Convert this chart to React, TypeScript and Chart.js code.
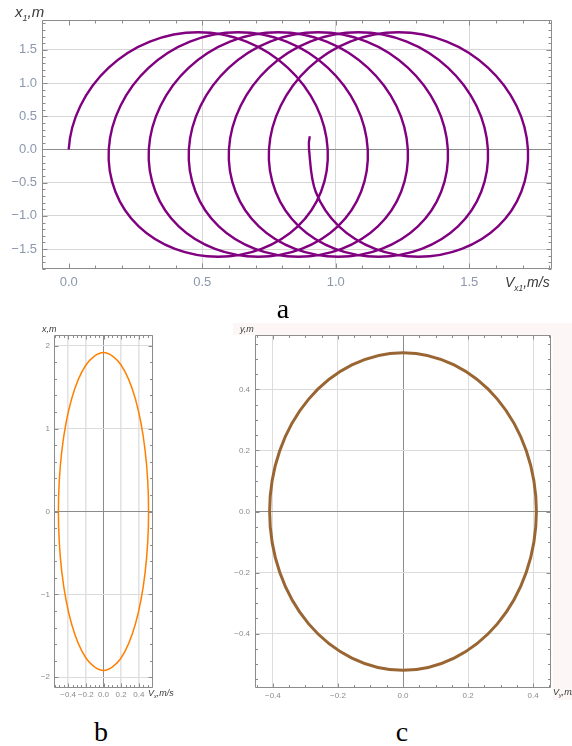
import React, { useEffect, useRef } from "react";
import { Chart, registerables } from "chart.js";

Chart.register(...registerables);
Chart.defaults.font.family = '"Liberation Sans", Arial, sans-serif';

// ---- (a) phase trajectory V_x1 – x1, sampled every 1/16 of a turn ----
// The first and last samples only steer the spline ends; their segments are not stroked.
const spiralV = [
  0.025,
  0, 0.044, 0.15, 0.304, 0.485, 0.666, 0.82, 0.927, 0.97, 0.945, 0.858, 0.722, 0.56, 0.398, 0.262, 0.175,
  0.15, 0.194, 0.3, 0.454, 0.635, 0.816, 0.97, 1.077, 1.12, 1.095, 1.008, 0.872, 0.71, 0.548, 0.412, 0.325,
  0.3, 0.344, 0.45, 0.604, 0.785, 0.966, 1.12, 1.227, 1.27, 1.245, 1.158, 1.022, 0.86, 0.698, 0.562, 0.475,
  0.45, 0.494, 0.6, 0.754, 0.935, 1.116, 1.27, 1.377, 1.42, 1.395, 1.308, 1.172, 1.01, 0.848, 0.712, 0.625,
  0.6, 0.644, 0.75, 0.904, 1.085, 1.266, 1.42, 1.527, 1.57, 1.545, 1.458, 1.322, 1.16, 0.998, 0.862, 0.775,
  0.75, 0.794, 0.9, 1.054, 1.235, 1.416, 1.57, 1.677, 1.72, 1.695, 1.608, 1.472, 1.31, 1.148, 1.012, 0.925,
  0.9, 0.903,
  0.944,
];
const spiralX = [
  -0.636,
  0, 0.658, 1.233, 1.625, 1.765, 1.625, 1.233, 0.658, 0, -0.636, -1.158, -1.497, -1.615, -1.497, -1.158, -0.636,
  0, 0.658, 1.233, 1.625, 1.765, 1.625, 1.233, 0.658, 0, -0.636, -1.158, -1.497, -1.615, -1.497, -1.158, -0.636,
  0, 0.658, 1.233, 1.625, 1.765, 1.625, 1.233, 0.658, 0, -0.636, -1.158, -1.497, -1.615, -1.497, -1.158, -0.636,
  0, 0.658, 1.233, 1.625, 1.765, 1.625, 1.233, 0.658, 0, -0.636, -1.158, -1.497, -1.615, -1.497, -1.158, -0.636,
  0, 0.658, 1.233, 1.625, 1.765, 1.625, 1.233, 0.658, 0, -0.636, -1.158, -1.497, -1.615, -1.497, -1.158, -0.636,
  0, 0.658, 1.233, 1.625, 1.765, 1.625, 1.233, 0.658, 0, -0.636, -1.158, -1.497, -1.615, -1.497, -1.158, -0.636,
  0, 0.2,
  0.658,
];
const aXTicks = [0, 0.5, 1, 1.5];
const aXLabels = ["0.0", "0.5", "1.0", "1.5"];
const aYTicks = [-1.5, -1, -0.5, 0, 0.5, 1, 1.5];
const aYLabels = ["\u22121.5", "\u22121.0", "\u22120.5", "0.0", "0.5", "1.0", "1.5"];

// ---- (b) closed orbit V_x – x ----
const orbitBV = [0.51, 0.471, 0.361, 0.195, 0, -0.195, -0.361, -0.471, -0.51, -0.471, -0.361, -0.195, 0, 0.195, 0.361, 0.471];
const orbitBX = [0, 0.735, 1.358, 1.774, 1.92, 1.774, 1.358, 0.735, 0, -0.735, -1.358, -1.774, -1.92, -1.774, -1.358, -0.735];
const bXTicks = [-0.4, -0.2, 0, 0.2, 0.4];
const bXLabels = ["\u22120.4", "\u22120.2", "0.0", "0.2", "0.4"];
const bYTicks = [-2, -1, 0, 1, 2];
const bYLabels = ["\u22122", "\u22121", "0", "1", "2"];

// ---- (c) closed orbit V_y – y ----
const orbitCV = [0.41, 0.379, 0.29, 0.157, 0, -0.157, -0.29, -0.379, -0.41, -0.379, -0.29, -0.157, 0, 0.157, 0.29, 0.379];
const orbitCY = [0, 0.199, 0.368, 0.48, 0.52, 0.48, 0.368, 0.199, 0, -0.199, -0.368, -0.48, -0.52, -0.48, -0.368, -0.199];
const cXTicks = [-0.4, -0.2, 0, 0.2, 0.4];
const cXLabels = ["\u22120.4", "\u22120.2", "0.0", "0.2", "0.4"];
const cYTicks = [-0.4, -0.2, 0, 0.2, 0.4];
const cYLabels = ["\u22120.4", "\u22120.2", "0.0", "0.2", "0.4"];

type AxisSpec = {
  min: number;
  max: number;
  ticks: number[];
  labels: string[];
  minorStep: number;
  size: number;
  pad: number;
  gridColor: string;
  gridWidth: number;
  zeroColor: string;
};

type PlotSpec = {
  points: { x: number; y: number }[];
  closed: boolean;
  color: string;
  lineWidth: number;
  tension: number;
  x: AxisSpec;
  y: AxisSpec;
  padding: { left: number; top: number; right: number; bottom: number };
  fontSize: number;
  labelColor: string;
  frameColor: string;
  majorLen: number;
  minorLen: number;
};

function zip(a: number[], b: number[]) {
  return a.map((v, i) => ({ x: v, y: b[i] }));
}

// For a closed orbit, pad with neighbours so the spline is smooth at the seam
function closeLoop(pts: { x: number; y: number }[]) {
  const n = pts.length;
  return [pts[n - 1], ...pts, pts[0], pts[1]];
}

function frameTicks(spec: PlotSpec) {
  return {
    id: "frameTicks",
    afterDraw(chart: Chart) {
      const { ctx, chartArea: ca } = chart;
      const xs = chart.scales.x;
      const ys = chart.scales.y;
      const L = Math.round(ca.left) + 0.5;
      const R = Math.round(ca.right) - 0.5;
      const T = Math.round(ca.top) + 0.5;
      const B = Math.round(ca.bottom) - 0.5;
      const marks = (min: number, max: number, step: number, majors: number[]) => {
        const out: [number, boolean][] = [];
        const start = Math.ceil(min / step - 1e-9);
        for (let i = start; i * step <= max + 1e-9; i++) {
          const v = i * step;
          out.push([v, majors.some((m) => Math.abs(m - v) < step / 10)]);
        }
        return out;
      };
      ctx.save();
      ctx.strokeStyle = spec.frameColor;
      ctx.lineWidth = 1;
      ctx.beginPath();
      ctx.rect(L, T, R - L, B - T);
      for (const [v, major] of marks(spec.x.min, spec.x.max, spec.x.minorStep, spec.x.ticks)) {
        const px = Math.round(xs.getPixelForValue(v)) + 0.5;
        const len = major ? spec.majorLen : spec.minorLen;
        ctx.moveTo(px, B);
        ctx.lineTo(px, B - len);
        ctx.moveTo(px, T);
        ctx.lineTo(px, T + len);
      }
      for (const [v, major] of marks(spec.y.min, spec.y.max, spec.y.minorStep, spec.y.ticks)) {
        const py = Math.round(ys.getPixelForValue(v)) + 0.5;
        const len = major ? spec.majorLen : spec.minorLen;
        ctx.moveTo(L, py);
        ctx.lineTo(L + len, py);
        ctx.moveTo(R, py);
        ctx.lineTo(R - len, py);
      }
      ctx.stroke();
      ctx.restore();
    },
  };
}

function axisOptions(ax: AxisSpec, spec: PlotSpec, horizontal: boolean) {
  return {
    type: "linear" as const,
    min: ax.min,
    max: ax.max,
    afterBuildTicks: (s: any) => {
      s.ticks = ax.ticks.map((v) => ({ value: v }));
    },
    afterFit: (s: any) => {
      if (horizontal) s.height = ax.size;
      else s.width = ax.size;
    },
    ticks: {
      autoSkip: false,
      maxRotation: 0,
      minRotation: 0,
      padding: ax.pad,
      color: spec.labelColor,
      font: { size: spec.fontSize },
      callback: (_v: any, i: number) => ax.labels[i],
    },
    grid: {
      drawTicks: false,
      color: (c: any) => (c.tick && c.tick.value === 0 ? ax.zeroColor : ax.gridColor),
      lineWidth: (c: any) => (c.tick && c.tick.value === 0 ? 1 : ax.gridWidth),
    },
    border: { display: false },
  };
}

function PlotCanvas(props: { spec: PlotSpec; left: number; top: number; width: number; height: number }) {
  const ref = useRef<HTMLCanvasElement>(null);
  const { spec } = props;
  useEffect(() => {
    const data = spec.closed ? closeLoop(spec.points) : spec.points;
    const last = data.length - 1;
    const chart = new Chart(ref.current as HTMLCanvasElement, {
      type: "scatter",
      data: {
        datasets: [
          {
            data,
            showLine: true,
            borderColor: spec.color,
            borderWidth: spec.lineWidth,
            pointRadius: 0,
            tension: spec.tension,
            fill: false,
            segment: {
              borderColor: (c: any) =>
                c.p0DataIndex === 0 || c.p1DataIndex === last ? "rgba(0,0,0,0)" : undefined,
            },
          },
        ],
      },
      options: {
        responsive: false,
        animation: false,
        events: [],
        layout: { padding: spec.padding },
        plugins: { legend: { display: false }, tooltip: { enabled: false } },
        scales: {
          x: axisOptions(spec.x, spec, true),
          y: axisOptions(spec.y, spec, false),
        },
      } as any,
      plugins: [frameTicks(spec)],
    });
    return () => chart.destroy();
  }, []);
  return (
    <canvas
      ref={ref}
      width={props.width}
      height={props.height}
      style={{ position: "absolute", left: props.left, top: props.top, width: props.width, height: props.height }}
    />
  );
}

const specA: PlotSpec = {
  points: zip(spiralV, spiralX),
  closed: false,
  color: "#800080",
  lineWidth: 2.4,
  tension: 0.34,
  x: {
    min: -0.1, max: 1.81, ticks: aXTicks, labels: aXLabels, minorStep: 0.1,
    size: 31, pad: 6, gridColor: "#d6d6d6", gridWidth: 1, zeroColor: "rgba(0,0,0,0)",
  },
  y: {
    min: -1.8, max: 1.95, ticks: aYTicks, labels: aYLabels, minorStep: 0.1,
    size: 42, pad: 5, gridColor: "#d6d6d6", gridWidth: 1, zeroColor: "#8c8c8c",
  },
  padding: { left: 0, top: 20, right: 20, bottom: 0 },
  fontSize: 13,
  labelColor: "#8a98ac",
  frameColor: "#8c8c8c",
  majorLen: 5,
  minorLen: 3,
};

const specB: PlotSpec = {
  points: zip(orbitBV, orbitBX),
  closed: true,
  color: "#ff8000",
  lineWidth: 1.5,
  tension: 0.34,
  x: {
    min: -0.56, max: 0.56, ticks: bXTicks, labels: bXLabels, minorStep: 0.05,
    size: 27, pad: 2, gridColor: "#e2e2e2", gridWidth: 1.6, zeroColor: "#8c8c8c",
  },
  y: {
    min: -2.13, max: 2.13, ticks: bYTicks, labels: bYLabels, minorStep: 0.2,
    size: 54, pad: 4, gridColor: "#dcdcdc", gridWidth: 1, zeroColor: "#8c8c8c",
  },
  padding: { left: 0, top: 20, right: 47, bottom: 0 },
  fontSize: 8,
  labelColor: "#8a8a8a",
  frameColor: "#8c8c8c",
  majorLen: 4,
  minorLen: 2.5,
};

const specC: PlotSpec = {
  points: zip(orbitCV, orbitCY),
  closed: true,
  color: "#996633",
  lineWidth: 3,
  tension: 0.34,
  x: {
    min: -0.455, max: 0.455, ticks: cXTicks, labels: cXLabels, minorStep: 0.05,
    size: 27, pad: 3, gridColor: "#dcdcdc", gridWidth: 1, zeroColor: "#8c8c8c",
  },
  y: {
    min: -0.578, max: 0.578, ticks: cYTicks, labels: cYLabels, minorStep: 0.05,
    size: 55, pad: 5, gridColor: "#dcdcdc", gridWidth: 1, zeroColor: "#8c8c8c",
  },
  padding: { left: 0, top: 20, right: 21, bottom: 0 },
  fontSize: 8,
  labelColor: "#8a8a8a",
  frameColor: "#8c8c8c",
  majorLen: 4,
  minorLen: 2.5,
};

const titleFont = '"Liberation Sans", Arial, sans-serif';

function AxisTitle(props: { left: number; top: number; size: number; main: string; sub?: string; rest: string }) {
  return (
    <div
      style={{
        position: "absolute",
        left: props.left,
        top: props.top,
        fontFamily: titleFont,
        fontStyle: "italic",
        fontSize: props.size,
        lineHeight: 1,
        color: "#3a3a3a",
        whiteSpace: "nowrap",
      }}
    >
      {props.main}
      {props.sub ? (
        <span style={{ fontSize: props.size * 0.6, position: "relative", top: props.size * 0.25 }}>{props.sub}</span>
      ) : null}
      {props.rest}
    </div>
  );
}

function Caption(props: { cx: number; top: number; text: string }) {
  return (
    <div
      style={{
        position: "absolute",
        left: props.cx - 20,
        width: 40,
        top: props.top,
        textAlign: "center",
        fontFamily: '"Liberation Serif", "Times New Roman", serif',
        fontSize: 28,
        lineHeight: "28px",
        color: "#000",
      }}
    >
      {props.text}
    </div>
  );
}

export default function App() {
  return (
    <div
      style={{
        position: "fixed",
        left: 0,
        top: 0,
        width: 572,
        height: 746,
        background: "#fff",
        overflow: "hidden",
      }}
    >
      <div style={{ position: "absolute", left: 233, top: 323, width: 339, height: 12, background: "#fcf7f6" }} />
      <div style={{ position: "absolute", left: 553, top: 335, width: 19, height: 365, background: "#fcf7f6" }} />

      <PlotCanvas spec={specA} left={0} top={0} width={572} height={300} />
      <PlotCanvas spec={specB} left={0} top={315} width={200} height={400} />
      <PlotCanvas spec={specC} left={200} top={315} width={372} height={400} />

      <AxisTitle left={15} top={4} size={15} main="x" sub="1" rest=",m" />
      <AxisTitle left={505} top={275} size={14} main="V" sub="x1" rest=",m/s" />
      <AxisTitle left={42} top={325} size={9} main="x,m" rest="" />
      <AxisTitle left={148} top={689} size={9} main="V" sub="x" rest=",m/s" />
      <AxisTitle left={240} top={325} size={9} main="y,m" rest="" />
      <AxisTitle left={553} top={688} size={9} main="V" sub="y" rest=",m/s" />

      <Caption cx={283} top={295} text="a" />
      <Caption cx={101} top={718} text="b" />
      <Caption cx={402} top={718} text="c" />
    </div>
  );
}
